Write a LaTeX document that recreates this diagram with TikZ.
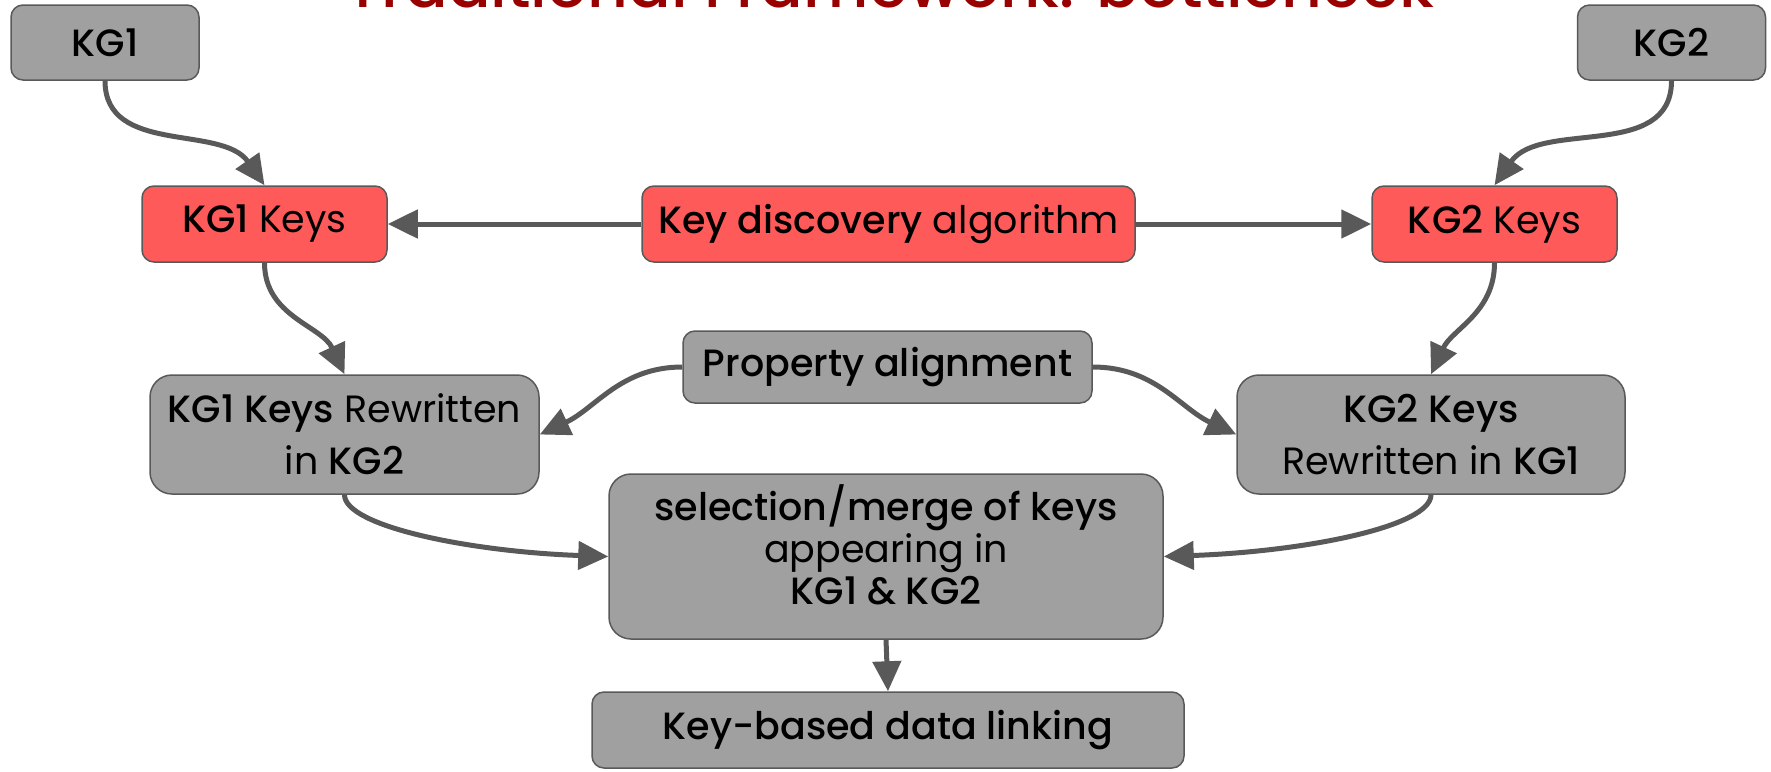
\documentclass[tikz,border=0pt]{standalone}
\usepackage{fontspec}
\setmainfont{Poppins}[BoldFont={Poppins Medium}]
\usetikzlibrary{arrows.meta}
\definecolor{boxgray}{HTML}{A0A0A0}
\definecolor{edgegray}{HTML}{595959}
\definecolor{keyred}{HTML}{FF5A5A}
\definecolor{titlered}{HTML}{990000}
\tikzset{
  box/.style={draw=edgegray, line width=1.5pt, fill=boxgray, rounded corners=12pt,
    align=center, inner sep=0pt, font=\fontsize{38}{46}\selectfont},
  keybox/.style={box, fill=keyred},
  bigbox/.style={box, rounded corners=22pt},
  link/.style={-{Triangle[length=30pt,width=28pt]}, line width=5pt, draw=edgegray},
}

\begin{document}
\begin{tikzpicture}[x=1pt,y=1pt]
  \useasboundingbox (0,0) rectangle (1771,-771);

  % Title, cut by the top edge
  \begin{scope}
    \clip (0,0) rectangle (1771,-771);
    \node[anchor=base, text=titlered, font=\fontsize{63}{70}\selectfont\bfseries] (title) at (890,-8) {Traditional Framework: bottleneck};
  \end{scope}

  % Input graphs
  \node[box, minimum width=188pt, minimum height=75pt] (kg1) at (105,-42.5) {\textbf{KG1}};
  \node[box, minimum width=188pt, minimum height=75pt] (kg2) at (1671.5,-42.5) {\textbf{KG2}};

  % Key discovery
  \node[keybox, minimum width=245pt, minimum height=76pt] (keys1) at (264.5,-224) {\textbf{KG1} Keys};
  \node[keybox, minimum width=493pt, minimum height=76pt] (disc) at (888.5,-224) {\textbf{Key discovery} algorithm};
  \node[keybox, minimum width=245pt, minimum height=76pt] (keys2) at (1494.5,-224) {\textbf{KG2} Keys};

  % Alignment and rewriting
  \node[box, minimum width=409pt, minimum height=72pt] (align) at (887.5,-367) {\textbf{Property alignment}};
  \node[bigbox, minimum width=389pt, minimum height=119pt, font=\fontsize{38}{52}\selectfont] (rew1) at (344.5,-434.5) {\textbf{KG1 Keys} Rewritten\\in \textbf{KG2}};
  \node[bigbox, minimum width=388pt, minimum height=119pt, font=\fontsize{38}{52}\selectfont] (rew2) at (1431,-434.5) {\textbf{KG2 Keys}\\Rewritten in \textbf{KG1}};

  % Merge and linking
  \node[bigbox, minimum width=554pt, minimum height=165pt, font=\fontsize{38}{42}\selectfont] (merge) at (886,-556.5) {\textbf{selection/merge of keys}\\appearing in\\\textbf{KG1 \& KG2}\rule[-24pt]{0pt}{24pt}};
  \node[box, minimum width=592pt, minimum height=76pt] (link) at (888,-730) {\textbf{Key-based data linking}};

  % Connectors
  \draw[link] (kg1.south) to[out=-90, in=125] (keys1.north);
  \draw[link] (kg2.south) to[out=-90, in=55] (keys2.north);
  \draw[link] (disc.west) -- (keys1.east);
  \draw[link] (disc.east) -- (keys2.west);
  \draw[link] (keys1.south) to[out=-90, in=115] (rew1.north);
  \draw[link] (keys2.south) to[out=-90, in=65] (rew2.north);
  \draw[link] (align.west) to[out=180, in=25] (rew1.east);
  \draw[link] (align.east) to[out=0, in=155] (rew2.west);
  \draw[link] (rew1.south) to[out=-90, in=178, out looseness=0.3, in looseness=1.3] (merge.west);
  \draw[link] (rew2.south) to[out=-90, in=2, out looseness=0.3, in looseness=1.3] (merge.east);
  \draw[link] (merge.south) -- (link.north);
\end{tikzpicture}
\end{document}
